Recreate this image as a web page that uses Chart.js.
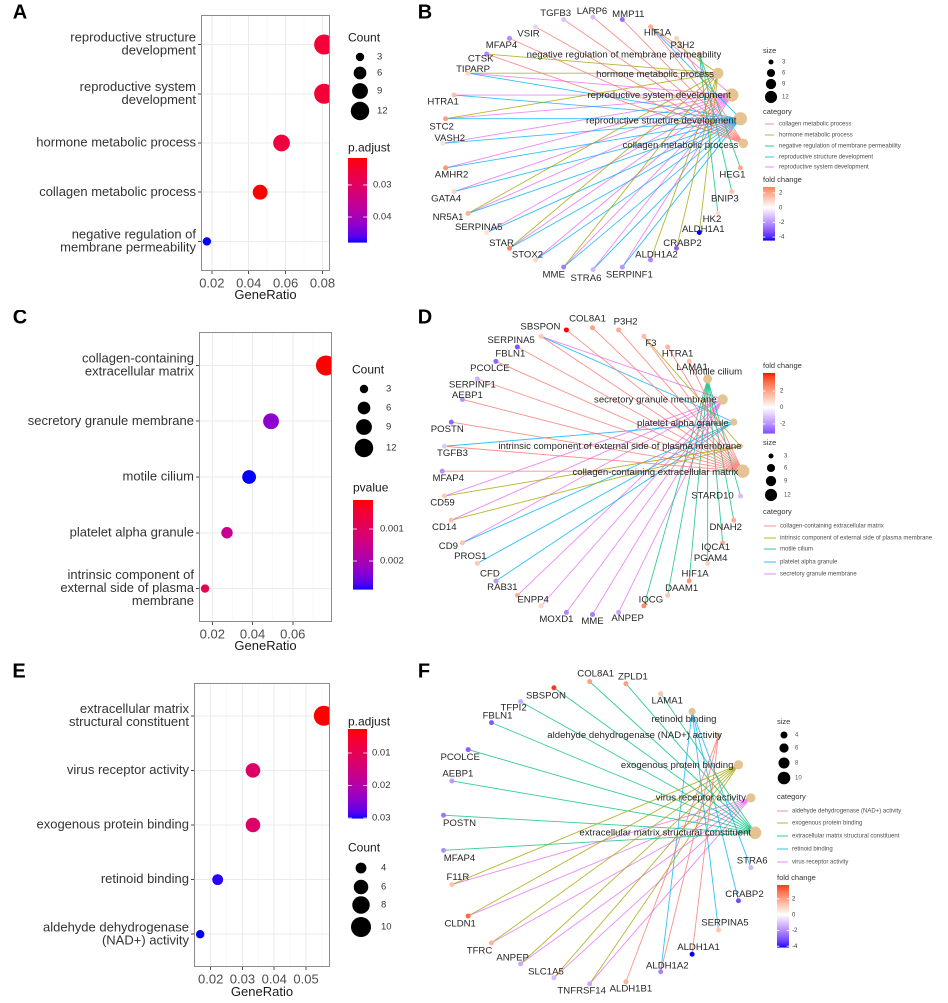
<!DOCTYPE html>
<html lang="en">
<head>
<meta charset="utf-8">
<title>GO enrichment dot plots and gene-concept networks</title>
<script src="https://cdn.jsdelivr.net/npm/chart.js@4.4.1/dist/chart.umd.min.js"></script>
<style>
  html, body { margin:0; padding:0; background:#ffffff; }
  #fig { position:relative; width:948px; height:1003px; overflow:hidden; background:#ffffff; }
  #fig canvas { position:absolute; }
</style>
</head>
<body>
<div id="fig">
  <canvas id="netB"></canvas>
  <canvas id="netD"></canvas>
  <canvas id="netF"></canvas>
  <canvas id="dotA"></canvas>
  <canvas id="dotC"></canvas>
  <canvas id="dotE"></canvas>
</div>
<script>
// ======================= DATA =======================
// ---- Panel A : GO biological process dot plot ----
const termsA = ['reproductive structure development', 'reproductive system development', 'hormone metabolic process', 'collagen metabolic process', 'negative regulation of membrane permeability'];
const geneRatioA = [0.0809, 0.0809, 0.0578, 0.0462, 0.0173];
const countA = [14, 14, 10, 8, 3];
const padjA = [0.0255, 0.0256, 0.0262, 0.0216, 0.0478];
const xTicksA = [0.02, 0.04, 0.06, 0.08];
const countTicksA = [3, 6, 9, 12];
const padjTicksA = [0.03, 0.04];

// ---- Panel C : GO cellular component dot plot ----
const termsC = ['collagen-containing extracellular matrix', 'secretory granule membrane', 'motile cilium', 'platelet alpha granule', 'intrinsic component of external side of plasma membrane'];
const geneRatioC = [0.0765, 0.0492, 0.0383, 0.0273, 0.0164];
const countC = [14, 9, 7, 5, 3];
const pvalC = [0.000094, 0.00232, 0.002875, 0.00154, 0.00084];
const xTicksC = [0.02, 0.04, 0.06];
const countTicksC = [3, 6, 9, 12];
const pvalTicksC = [0.001, 0.002];

// ---- Panel E : GO molecular function dot plot ----
const termsE = ['extracellular matrix structural constituent', 'virus receptor activity', 'exogenous protein binding', 'retinoid binding', 'aldehyde dehydrogenase (NAD+) activity'];
const geneRatioE = [0.0556, 0.0333, 0.0333, 0.0222, 0.0167];
const countE = [10, 6, 6, 4, 3];
const padjE = [0.0026, 0.0122, 0.0122, 0.0296, 0.0300];
const xTicksE = [0.02, 0.03, 0.04, 0.05];
const countTicksE = [4, 6, 8, 10];
const padjTicksE = [0.01, 0.02, 0.03];

// ---- Panel B : network (circular layout order) ----
const circleB = ['collagen metabolic process', 'reproductive structure development', 'reproductive system development', 'hormone metabolic process', 'negative regulation of membrane permeability',
  'P3H2', 'HIF1A', 'MMP11', 'LARP6', 'TGFB3', 'VSIR', 'MFAP4', 'CTSK', 'TIPARP', 'HTRA1', 'STC2', 'VASH2', 'AMHR2', 'GATA4', 'NR5A1', 'SERPINA5', 'STAR', 'STOX2', 'MME', 'STRA6', 'SERPINF1', 'ALDH1A2', 'CRABP2', 'ALDH1A1', 'HK2', 'BNIP3', 'HEG1'];
const catsB = ['collagen metabolic process', 'hormone metabolic process', 'negative regulation of membrane permeability', 'reproductive structure development', 'reproductive system development'];
const catCountB = [8, 10, 3, 14, 14];
const catGenesB = [
  ['TGFB3', 'LARP6', 'MMP11', 'HIF1A', 'P3H2', 'VSIR', 'MFAP4', 'CTSK'],
  ['CTSK', 'TIPARP', 'STC2', 'NR5A1', 'STAR', 'MME', 'ALDH1A2', 'CRABP2', 'ALDH1A1', 'HIF1A'],
  ['HEG1', 'BNIP3', 'HK2'],
  ['TIPARP', 'HTRA1', 'STC2', 'VASH2', 'AMHR2', 'GATA4', 'NR5A1', 'SERPINA5', 'STAR', 'STOX2', 'MME', 'STRA6', 'SERPINF1', 'HIF1A'],
  ['TIPARP', 'HTRA1', 'STC2', 'VASH2', 'AMHR2', 'GATA4', 'NR5A1', 'SERPINA5', 'STAR', 'STOX2', 'MME', 'STRA6', 'SERPINF1', 'HIF1A']
];
const genesB = ['P3H2', 'HIF1A', 'MMP11', 'LARP6', 'TGFB3', 'VSIR', 'MFAP4', 'CTSK', 'TIPARP', 'HTRA1', 'STC2', 'VASH2', 'AMHR2', 'GATA4', 'NR5A1', 'SERPINA5', 'STAR', 'STOX2', 'MME', 'STRA6', 'SERPINF1', 'ALDH1A2', 'CRABP2', 'ALDH1A1', 'HK2', 'BNIP3', 'HEG1'];
const foldB = [1.1, 1.8, -2.8, -1.3, -1.1, -0.8, -2.2, -2.3, 1.0, 1.5, 2.2, 0.7, 2.4, 1.0, 1.8, 0.7, 2.8, 0.9, -2.5, -1.4, -2.0, -2.3, -3.0, -4.4, 0.8, 1.4, 2.0];
const sizeTicksB = [3, 6, 9, 12];
const foldTicksB = [2, 0, -2, -4];

// ---- Panel D : network ----
const circleD = ['collagen-containing extracellular matrix', 'intrinsic component of external side of plasma membrane', 'platelet alpha granule', 'secretory granule membrane', 'motile cilium',
  'LAMA1', 'HTRA1', 'F3', 'P3H2', 'COL8A1', 'SBSPON', 'SERPINA5', 'FBLN1', 'PCOLCE', 'SERPINF1', 'AEBP1', 'POSTN', 'TGFB3', 'MFAP4', 'CD59', 'CD14', 'CD9', 'PROS1', 'CFD', 'RAB31', 'ENPP4', 'MOXD1', 'MME', 'ANPEP', 'IQCG', 'DAAM1', 'HIF1A', 'PGAM4', 'IQCA1', 'DNAH2', 'STARD10'];
const catsD = ['collagen-containing extracellular matrix', 'intrinsic component of external side of plasma membrane', 'motile cilium', 'platelet alpha granule', 'secretory granule membrane'];
const catCountD = [14, 3, 7, 5, 9];
const catGenesD = [
  ['LAMA1', 'HTRA1', 'F3', 'P3H2', 'COL8A1', 'SBSPON', 'SERPINA5', 'FBLN1', 'PCOLCE', 'SERPINF1', 'AEBP1', 'POSTN', 'TGFB3', 'MFAP4'],
  ['F3', 'CD59', 'CD14'],
  ['IQCG', 'DAAM1', 'HIF1A', 'PGAM4', 'IQCA1', 'DNAH2', 'STARD10'],
  ['SERPINA5', 'TGFB3', 'CD9', 'PROS1', 'CFD'],
  ['SERPINA5', 'CD59', 'CD14', 'CD9', 'RAB31', 'ENPP4', 'MOXD1', 'MME', 'ANPEP']
];
const genesD = ['LAMA1', 'HTRA1', 'F3', 'P3H2', 'COL8A1', 'SBSPON', 'SERPINA5', 'FBLN1', 'PCOLCE', 'SERPINF1', 'AEBP1', 'POSTN', 'TGFB3', 'MFAP4', 'CD59', 'CD14', 'CD9', 'PROS1', 'CFD', 'RAB31', 'ENPP4', 'MOXD1', 'MME', 'ANPEP', 'IQCG', 'DAAM1', 'HIF1A', 'PGAM4', 'IQCA1', 'DNAH2', 'STARD10'];
const foldD = [1.4, 1.6, 1.5, 1.8, 2.0, 4.2, 1.2, -3.1, -2.8, -1.4, -2.0, -2.8, -1.0, -2.0, 1.2, 1.4, 1.3, 1.2, -1.8, 1.7, 0.9, -2.2, -2.4, -1.6, 2.5, 1.2, 2.2, 1.0, 1.8, 1.8, -1.2];
const sizeTicksD = [3, 6, 9, 12];
const foldTicksD = [2, 0, -2];

// ---- Panel F : network ----
const circleF = ['extracellular matrix structural constituent', 'virus receptor activity', 'exogenous protein binding', 'aldehyde dehydrogenase (NAD+) activity', 'retinoid binding',
  'LAMA1', 'ZPLD1', 'COL8A1', 'SBSPON', 'TFPI2', 'FBLN1', 'PCOLCE', 'AEBP1', 'POSTN', 'MFAP4', 'F11R', 'CLDN1', 'TFRC', 'ANPEP', 'SLC1A5', 'TNFRSF14', 'ALDH1B1', 'ALDH1A2', 'ALDH1A1', 'SERPINA5', 'CRABP2', 'STRA6'];
const catsF = ['aldehyde dehydrogenase (NAD+) activity', 'exogenous protein binding', 'extracellular matrix structural constituent', 'retinoid binding', 'virus receptor activity'];
const catCountF = [3, 6, 10, 4, 6];
const catGenesF = [
  ['ALDH1B1', 'ALDH1A1', 'ALDH1A2'],
  ['F11R', 'CLDN1', 'TFRC', 'ANPEP', 'SLC1A5', 'TNFRSF14'],
  ['LAMA1', 'ZPLD1', 'COL8A1', 'SBSPON', 'TFPI2', 'FBLN1', 'PCOLCE', 'AEBP1', 'POSTN', 'MFAP4'],
  ['STRA6', 'CRABP2', 'SERPINA5', 'ALDH1A2'],
  ['F11R', 'CLDN1', 'TFRC', 'ANPEP', 'SLC1A5', 'TNFRSF14']
];
const genesF = ['LAMA1', 'ZPLD1', 'COL8A1', 'SBSPON', 'TFPI2', 'FBLN1', 'PCOLCE', 'AEBP1', 'POSTN', 'MFAP4', 'F11R', 'CLDN1', 'TFRC', 'ANPEP', 'SLC1A5', 'TNFRSF14', 'ALDH1B1', 'ALDH1A2', 'ALDH1A1', 'SERPINA5', 'CRABP2', 'STRA6'];
const foldF = [1.3, 2.0, 2.0, 3.75, -1.5, -3.0, -2.8, -1.8, -2.5, -2.0, 1.3, 3.0, 1.6, -1.5, -1.2, -1.5, 1.6, -2.2, -4.1, 1.2, -3.2, -1.3];
const sizeTicksF = [4, 6, 8, 10];
const foldTicksF = [2, 0, -2, -4];

// ======================= LAYOUT / STYLE CONFIG =======================
const FONT = '"Liberation Sans", Arial, Helvetica, sans-serif';
const CAT_COLORS = ['#F8766D', '#A3A500', '#00BF7D', '#00B0F6', '#E76BF3'];
const NODE_COLOR = '#E5C494';

// label nudges (pixels) for network text
const nudgeB = {P3H2:[6,7],HIF1A:[7,6],MMP11:[6,-5],LARP6:[-1,-6],TGFB3:[-8,-6],VSIR:[-7,7],MFAP4:[-8,7],CTSK:[-6,5],TIPARP:[5,-4],HTRA1:[-11,7],STC2:[-4,8],VASH2:[7,-5],AMHR2:[6,7],GATA4:[-8,7],NR5A1:[-20,4],SERPINA5:[-8,-5],STAR:[-8,-5],STOX2:[-8,-5],MME:[-10,8],STRA6:[-7,9],SERPINF1:[7,8],ALDH1A2:[6,-5],CRABP2:[6,-5],ALDH1A1:[4,-3],HK2:[-6,6],BNIP3:[-7,7],HEG1:[-8,7]};
const catNudgeB = [[-5,2],[-4,2],[-1,0.5],[-4,1],[22,1]]; // in circle order
const nudgeD = {LAMA1:[3,6],HTRA1:[10,7],F3:[7,7],P3H2:[7,-8],COL8A1:[-5,-9],SBSPON:[-26,-3],SERPINA5:[-30,4],FBLN1:[-7,7],PCOLCE:[-6,7],SERPINF1:[-5,6],AEBP1:[5,-4],POSTN:[-4,7],TGFB3:[8,7],MFAP4:[6,7],CD59:[-2,7],CD14:[-7,7],CD9:[-14,3.5],PROS1:[-7,-7],CFD:[-6,-7],RAB31:[-15,-8],ENPP4:[-8,-6],MOXD1:[-10,7],MME:[0,7],ANPEP:[9,6],IQCG:[7,-6],DAAM1:[14,-7],HIF1A:[6,-7],PGAM4:[3,-5],IQCA1:[-7,4.5],DNAH2:[-8,7],STARD10:[-28,0]};
const catNudgeD = [[-4.5,1],[1,0],[-5,1],[-6,0.5],[34.5,-7]];
const nudgeF = {LAMA1:[6.6,7],ZPLD1:[7,-7],COL8A1:[6,-8],SBSPON:[-8,8],TFPI2:[-7,6],FBLN1:[6,-7],PCOLCE:[-8,8],AEBP1:[6,-7],POSTN:[16,8],MFAP4:[16,8],F11R:[6,-7],CLDN1:[-8,8],TFRC:[-12,8],ANPEP:[-8,-6],SLC1A5:[-8,-6],TNFRSF14:[-8,7],ALDH1B1:[5,7],ALDH1A2:[6.6,-6],ALDH1A1:[6.4,-7],SERPINA5:[6.4,-7],CRABP2:[6,-6.5],STRA6:[1.3,-7]};
const catNudgeF = [[-4,0],[-5,0],[-5,0.5],[3.4,0],[24.4,8]];

// ======================= HELPERS =======================
function hexToRgb(h){ h = h.replace('#',''); return [parseInt(h.substr(0,2),16), parseInt(h.substr(2,2),16), parseInt(h.substr(4,2),16)]; }
function rgba(hex, a){ const c = hexToRgb(hex); return `rgba(${c[0]},${c[1]},${c[2]},${a})`; }
function s2l(c){ c /= 255; return c <= 0.04045 ? c/12.92 : Math.pow((c+0.055)/1.055, 2.4); }
function l2s(c){ c = c <= 0.0031308 ? 12.92*c : 1.055*Math.pow(c, 1/2.4) - 0.055; return Math.round(Math.max(0, Math.min(1, c))*255); }
function rgbToLab(rgb){
  const r = s2l(rgb[0]), g = s2l(rgb[1]), b = s2l(rgb[2]);
  const x = (r*0.4124 + g*0.3576 + b*0.1805)/0.95047, y = r*0.2126 + g*0.7152 + b*0.0722, z = (r*0.0193 + g*0.1192 + b*0.9505)/1.08883;
  const f = t => t > 0.008856 ? Math.cbrt(t) : (7.787*t + 16/116);
  const fx = f(x), fy = f(y), fz = f(z);
  return [116*fy - 16, 500*(fx - fy), 200*(fy - fz)];
}
function labToRgb(lab){
  const fy = (lab[0] + 16)/116, fx = fy + lab[1]/500, fz = fy - lab[2]/200;
  const fi = t => { const t3 = t*t*t; return t3 > 0.008856 ? t3 : (t - 16/116)/7.787; };
  const x = fi(fx)*0.95047, y = fi(fy), z = fi(fz)*1.08883;
  return [l2s(3.2406*x - 1.5372*y - 0.4986*z), l2s(-0.9689*x + 1.8758*y + 0.0415*z), l2s(0.0557*x - 0.2040*y + 1.0570*z)];
}
function mixLab(c1, c2, t){
  t = Math.max(0, Math.min(1, t));
  const a = rgbToLab(hexToRgb(c1)), b = rgbToLab(hexToRgb(c2));
  const c = labToRgb([0,1,2].map(i => a[i] + (b[i] - a[i])*t));
  return `rgb(${c[0]},${c[1]},${c[2]})`;
}
function wrapTerm(st, width){
  const out = [];
  while (st.length > width && st.indexOf(' ') >= 0) {
    const ys = [];
    for (let i = 0; i < st.length; i++) if (st[i] === ' ') ys.push(i + 1);
    ys.push(st.length);
    const ok = ys.filter(v => v < width);
    const cut = ok.length ? ok[ok.length - 1] : ys[0];
    out.push(st.substring(0, cut - 1));
    st = st.substring(cut);
  }
  out.push(st);
  return out;
}
function fmtNum(v){ let s = (+v).toFixed(3).replace(/0+$/, ''); if (s.endsWith('.')) s += '0'; return s; }
function expand(vals){ const mn = Math.min(...vals), mx = Math.max(...vals), d = (mx - mn)*0.05; return [mn - d, mx + d]; }
function areaScale(vmin, vmax, r0, r1){ return v => Math.sqrt(r0*r0 + (r1*r1 - r0*r0)*(v - vmin)/(vmax - vmin)); }

function drawBar(ctx, L, vTop, vBot, colorFn, ticks, fmt, font){
  const nb = 80, h = (L.y1 - L.y0)/nb;
  for (let i = 0; i < nb; i++) {
    const v = vTop + (vBot - vTop)*(i + 0.5)/nb;
    ctx.fillStyle = colorFn(v);
    ctx.fillRect(L.x0, L.y0 + i*h, L.x1 - L.x0, h + 0.6);
  }
  const tl = (L.x1 - L.x0)/5;
  ctx.strokeStyle = '#ffffff'; ctx.lineWidth = 0.8;
  ctx.font = font; ctx.textAlign = 'left'; ctx.textBaseline = 'middle'; ctx.fillStyle = '#333333';
  ticks.forEach(t => {
    const y = L.y0 + (t - vTop)/(vBot - vTop)*(L.y1 - L.y0);
    ctx.beginPath(); ctx.moveTo(L.x0, y); ctx.lineTo(L.x0 + tl, y); ctx.moveTo(L.x1 - tl, y); ctx.lineTo(L.x1, y); ctx.stroke();
    ctx.fillText(fmt(t), L.lx, y);
  });
}

// ======================= DOT PLOTS =======================
function buildDotPlot(cfg){
  const cv = document.getElementById(cfg.id);
  cv.width = cfg.box.w; cv.height = cfg.box.h;
  cv.style.left = cfg.box.x + 'px'; cv.style.top = cfg.box.y + 'px';
  const ox = cfg.box.x, oy = cfg.box.y;
  const area = { l: cfg.panel.l - ox, r: cfg.panel.r - ox, t: cfg.panel.t - oy, b: cfg.panel.b - oy };
  const [xmin, xmax] = expand(cfg.ratio);
  const pmin = Math.min(...cfg.pv), pmax = Math.max(...cfg.pv);
  const pColor = p => mixLab('#FF0000', '#0000FF', (p - pmin)/(pmax - pmin));
  const radius = areaScale(Math.min(...cfg.count), Math.max(...cfg.count), 4.2, 10);
  const major = cfg.xTicks[1] - cfg.xTicks[0], half = major/2;
  const tickVals = [];
  for (let k = Math.ceil(xmin/half - 1e-9); k*half <= xmax + 1e-12; k++) tickVals.push(+(k*half).toFixed(6));
  const isMajor = v => Math.abs(v/major - Math.round(v/major)) < 1e-6;
  const n = cfg.terms.length;

  new Chart(cv, {
    type: 'scatter',
    data: { datasets: [{
      data: cfg.ratio.map((v, i) => ({ x: v, y: i + 1 })),
      pointRadius: ctx => radius(cfg.count[ctx.dataIndex]),
      pointHoverRadius: ctx => radius(cfg.count[ctx.dataIndex]),
      pointBackgroundColor: cfg.pv.map(pColor),
      pointBorderWidth: 0,
      clip: 0
    }]},
    options: {
      responsive: false, animation: false, devicePixelRatio: 2, events: [],
      layout: { padding: { left: 0, top: area.t, right: cfg.box.w - area.r, bottom: 0 } },
      plugins: { legend: { display: false }, tooltip: { enabled: false } },
      scales: {
        x: {
          type: 'linear', min: xmin, max: xmax,
          afterBuildTicks: s => { s.ticks = tickVals.map(v => ({ value: v })); },
          afterFit: s => { s.height = cfg.box.h - area.b; },
          grid: {
            color: c => (c.tick && !isMajor(c.tick.value)) ? '#F3F3F3' : '#EBEBEB',
            lineWidth: c => (c.tick && !isMajor(c.tick.value)) ? 0.6 : 1,
            tickColor: c => (c.tick && !isMajor(c.tick.value)) ? 'rgba(0,0,0,0)' : '#4D4D4D',
            tickLength: 3
          },
          border: { display: false },
          ticks: { callback: v => isMajor(v) ? fmtNum(v) : '', color: '#4D4D4D', font: { family: FONT, size: 13 }, padding: 2, maxRotation: 0, autoSkip: false },
          title: { display: true, text: 'GeneRatio', color: '#1A1A1A', font: { family: FONT, size: 13 }, padding: { top: 0, bottom: cfg.titlePad } }
        },
        y: {
          type: 'linear', min: 0.4, max: n + 0.6, reverse: true,
          afterBuildTicks: s => { s.ticks = cfg.terms.map((t, i) => ({ value: i + 1 })); },
          afterFit: s => { s.width = area.l; },
          grid: { color: '#EBEBEB', lineWidth: 1, tickColor: '#4D4D4D', tickLength: 3 },
          border: { display: false },
          ticks: { callback: (v, i) => wrapTerm(cfg.terms[i], 30), color: '#333333', font: { family: FONT, size: 13, lineHeight: 1.0 }, padding: 2, autoSkip: false }
        }
      }
    },
    plugins: [{
      id: 'dotDecor',
      afterDatasetsDraw(chart){
        const { ctx, chartArea: ca } = chart;
        ctx.save(); ctx.strokeStyle = '#8C8C8C'; ctx.lineWidth = 1;
        ctx.strokeRect(ca.left + 0.5, ca.top + 0.5, ca.right - ca.left - 1, ca.bottom - ca.top - 1);
        ctx.restore();
      },
      afterDraw(chart){
        const ctx = chart.ctx;
        ctx.save(); ctx.translate(-ox, -oy);
        ctx.fillStyle = '#000'; ctx.font = `bold 20px ${FONT}`; ctx.textAlign = 'center'; ctx.textBaseline = 'middle';
        ctx.fillText(cfg.letter.text, cfg.letter.x, cfg.letter.y);
        const C = cfg.countLeg;
        ctx.textAlign = 'left'; ctx.fillStyle = '#1A1A1A'; ctx.font = `12px ${FONT}`;
        ctx.fillText('Count', C.x, C.titleY);
        cfg.countTicks.forEach((c, i) => {
          ctx.beginPath(); ctx.arc(C.cx, C.cy[i], radius(c), 0, 2*Math.PI); ctx.fillStyle = '#000'; ctx.fill();
          ctx.font = `9.5px ${FONT}`; ctx.fillStyle = '#333'; ctx.fillText(String(c), C.lx, C.cy[i]);
        });
        const P = cfg.colorLeg;
        ctx.fillStyle = '#1A1A1A'; ctx.font = `12px ${FONT}`; ctx.textAlign = 'left';
        ctx.fillText(cfg.colorTitle, P.x, P.titleY);
        drawBar(ctx, P, pmin, pmax, pColor, cfg.pTicks, fmtNum, `9.5px ${FONT}`);
        ctx.restore();
      }
    }]
  });
}

// ======================= NETWORKS =======================
function buildNetwork(cfg){
  const cv = document.getElementById(cfg.id);
  cv.width = cfg.box.w; cv.height = cfg.box.h;
  cv.style.left = cfg.box.x + 'px'; cv.style.top = cfg.box.y + 'px';
  const ox = cfg.box.x, oy = cfg.box.y, G = cfg.geom;
  const n = cfg.circle.length, pos = {};
  cfg.circle.forEach((name, i) => { const a = 2*Math.PI*i/n; pos[name] = { x: Math.cos(a), y: Math.sin(a) }; });
  const xmin = (ox - G.cx)/G.rx, xmax = (ox + cfg.box.w - G.cx)/G.rx;
  const ymax = (G.cy - oy)/G.ry, ymin = (G.cy - oy - cfg.box.h)/G.ry;
  const fmin = Math.min(...cfg.fold), fmax = Math.max(...cfg.fold);
  const fabs = Math.max(Math.abs(fmin), Math.abs(fmax));
  const fColor = v => v >= 0 ? mixLab('#FFFFFF', '#FF0000', v/fabs) : mixLab('#FFFFFF', '#0000FF', -v/fabs);
  const catR = areaScale(Math.min(...cfg.catCount), Math.max(...cfg.catCount), cfg.rRange[0], cfg.rRange[1]);

  const datasets = [];
  cfg.cats.forEach((c, ci) => {
    const d = [];
    cfg.catGenes[ci].forEach(gn => { d.push({ x: pos[gn].x, y: pos[gn].y }, { x: pos[c].x, y: pos[c].y }, { x: null, y: null }); });
    datasets.push({ type: 'line', data: d, borderColor: rgba(CAT_COLORS[ci], 0.8), borderWidth: 0.9, pointRadius: 0, pointHoverRadius: 0, spanGaps: false, fill: false, tension: 0, order: 3, clip: false });
  });
  const catOrderCounts = cfg.circle.filter(nm => cfg.cats.includes(nm)).map(nm => cfg.catCount[cfg.cats.indexOf(nm)]);
  const catNames = cfg.circle.filter(nm => cfg.cats.includes(nm));
  datasets.push({ type: 'scatter', data: catNames.map(c => ({ x: pos[c].x, y: pos[c].y })), pointRadius: catOrderCounts.map(catR), pointHoverRadius: catOrderCounts.map(catR), pointBackgroundColor: NODE_COLOR, pointBorderWidth: 0, order: 2, clip: false });
  datasets.push({ type: 'scatter', data: cfg.genes.map(g => ({ x: pos[g].x, y: pos[g].y })), pointRadius: 2.5, pointHoverRadius: 2.5, pointBackgroundColor: cfg.fold.map(fColor), pointBorderWidth: 0, order: 1, clip: false });

  new Chart(cv, {
    type: 'scatter',
    data: { datasets },
    options: {
      responsive: false, animation: false, devicePixelRatio: 2, events: [],
      layout: { padding: 0 },
      plugins: { legend: { display: false }, tooltip: { enabled: false } },
      scales: {
        x: { type: 'linear', min: xmin, max: xmax, display: false },
        y: { type: 'linear', min: ymin, max: ymax, display: false }
      }
    },
    plugins: [{
      id: 'netDecor',
      afterDatasetsDraw(chart){
        const ctx = chart.ctx, xs = chart.scales.x, ys = chart.scales.y;
        ctx.save();
        ctx.fillStyle = '#262626'; ctx.textBaseline = 'middle';
        ctx.font = `9.6px ${FONT}`; ctx.textAlign = 'center';
        cfg.genes.forEach(g => {
          const o = cfg.nudge[g] || [0, -7];
          ctx.fillText(g, xs.getPixelForValue(pos[g].x) + o[0], ys.getPixelForValue(pos[g].y) + o[1]);
        });
        ctx.textAlign = 'right';
        catNames.forEach((c, i) => {
          const o = cfg.catNudge[i];
          ctx.fillText(c, xs.getPixelForValue(pos[c].x) + o[0], ys.getPixelForValue(pos[c].y) + o[1]);
        });
        ctx.restore();
      },
      afterDraw(chart){
        const ctx = chart.ctx;
        ctx.save(); ctx.translate(-ox, -oy);
        ctx.fillStyle = '#000'; ctx.font = `bold 20px ${FONT}`; ctx.textAlign = 'center'; ctx.textBaseline = 'middle';
        ctx.fillText(cfg.letter.text, cfg.letter.x, cfg.letter.y);
        ctx.textAlign = 'left';
        const title = (t, x, y) => { ctx.fillStyle = '#333'; ctx.font = `7.5px ${FONT}`; ctx.fillText(t, x, y); };
        // size legend
        const S = cfg.sizeLeg;
        title('size', S.x, S.titleY);
        cfg.sizeTicks.forEach((s, i) => {
          ctx.beginPath(); ctx.arc(S.cx, S.cy[i], catR(s), 0, 2*Math.PI); ctx.fillStyle = '#000'; ctx.fill();
          ctx.fillStyle = '#4D4D4D'; ctx.font = `6px ${FONT}`; ctx.fillText(String(s), S.lx, S.cy[i]);
        });
        // category legend
        const K = cfg.catLeg;
        title('category', K.x, K.titleY);
        cfg.cats.forEach((c, i) => {
          ctx.strokeStyle = rgba(CAT_COLORS[i], 0.8); ctx.lineWidth = 1;
          ctx.beginPath(); ctx.moveTo(K.l0, K.ys[i]); ctx.lineTo(K.l1, K.ys[i]); ctx.stroke();
          ctx.fillStyle = '#4D4D4D'; ctx.font = `6px ${FONT}`; ctx.fillText(c, K.tx, K.ys[i]);
        });
        // fold change legend
        const F = cfg.foldLeg;
        title('fold change', F.x, F.titleY);
        drawBar(ctx, F, fmax, fmin, fColor, cfg.foldTicks, v => String(v), `6px ${FONT}`);
        ctx.restore();
      }
    }]
  });
}

// ======================= BUILD =======================
buildDotPlot({
  id: 'dotA', box: { x: 0, y: 0, w: 420, h: 320 }, panel: { l: 201, r: 330, t: 4, b: 271 }, titlePad: 17,
  terms: termsA, ratio: geneRatioA, count: countA, pv: padjA, colorTitle: 'p.adjust',
  xTicks: xTicksA, countTicks: countTicksA, pTicks: padjTicksA,
  letter: { text: 'A', x: 20, y: 13 },
  countLeg: { x: 348, titleY: 38, cx: 360, cy: [57, 73, 91, 111], lx: 377 },
  colorLeg: { x: 348, titleY: 148, x0: 348, x1: 367, y0: 158, y1: 242, lx: 373 }
});
buildDotPlot({
  id: 'dotC', box: { x: 0, y: 310, w: 420, h: 350 }, panel: { l: 199, r: 332, t: 332, b: 622 }, titlePad: 6,
  terms: termsC, ratio: geneRatioC, count: countC, pv: pvalC, colorTitle: 'pvalue',
  xTicks: xTicksC, countTicks: countTicksC, pTicks: pvalTicksC,
  letter: { text: 'C', x: 20, y: 318 },
  countLeg: { x: 352, titleY: 370, cx: 364, cy: [389, 408, 427, 448], lx: 386 },
  colorLeg: { x: 353, titleY: 488, x0: 353, x1: 373, y0: 500, y1: 589, lx: 380 }
});
buildDotPlot({
  id: 'dotE', box: { x: 0, y: 655, w: 420, h: 348 }, panel: { l: 194, r: 330, t: 683, b: 967 }, titlePad: 3,
  terms: termsE, ratio: geneRatioE, count: countE, pv: padjE, colorTitle: 'p.adjust',
  xTicks: xTicksE, countTicks: countTicksE, pTicks: padjTicksE,
  letter: { text: 'E', x: 19, y: 672 },
  colorLeg: { x: 348, titleY: 722, x0: 348, x1: 367, y0: 729, y1: 818, lx: 372 },
  countLeg: { x: 348, titleY: 848, cx: 361, cy: [868, 887, 905, 927], lx: 381 }
});

buildNetwork({
  id: 'netB', box: { x: 400, y: 0, w: 548, h: 300 }, geom: { cx: 591, cy: 143, rx: 154, ry: 132 },
  circle: circleB, cats: catsB, catCount: catCountB, catGenes: catGenesB, genes: genesB, fold: foldB,
  nudge: nudgeB, catNudge: catNudgeB, rRange: [2.5, 6.6], sizeTicks: sizeTicksB, foldTicks: foldTicksB,
  letter: { text: 'B', x: 425, y: 13 },
  sizeLeg: { x: 763, titleY: 51, cx: 771, cy: [62, 73, 84, 97], lx: 782 },
  catLeg: { x: 763, titleY: 112, ys: [124, 135, 146, 157, 167], l0: 765, l1: 774, tx: 779 },
  foldLeg: { x: 763, titleY: 180, x0: 763, x1: 775, y0: 187, y1: 240, lx: 779 }
});
buildNetwork({
  id: 'netD', box: { x: 400, y: 300, w: 548, h: 350 }, geom: { cx: 590.5, cy: 471, rx: 154, ry: 149 },
  circle: circleD, cats: catsD, catCount: catCountD, catGenes: catGenesD, genes: genesD, fold: foldD,
  nudge: nudgeD, catNudge: catNudgeD, rRange: [2.5, 6.6], sizeTicks: sizeTicksD, foldTicks: foldTicksD,
  letter: { text: 'D', x: 425, y: 318 },
  foldLeg: { x: 763, titleY: 366, x0: 763, x1: 775, y0: 373, y1: 433, lx: 780 },
  sizeLeg: { x: 763, titleY: 443, cx: 771, cy: [456, 468, 481, 495], lx: 784 },
  catLeg: { x: 763, titleY: 512, ys: [526, 538, 549, 562, 574], l0: 764, l1: 776, tx: 780 }
});
buildNetwork({
  id: 'netF', box: { x: 400, y: 650, w: 548, h: 353 }, geom: { cx: 597, cy: 833, rx: 160, ry: 157 },
  circle: circleF, cats: catsF, catCount: catCountF, catGenes: catGenesF, genes: genesF, fold: foldF,
  nudge: nudgeF, catNudge: catNudgeF, rRange: [2.8, 6.3], sizeTicks: sizeTicksF, foldTicks: foldTicksF,
  letter: { text: 'F', x: 424, y: 672 },
  sizeLeg: { x: 777, titleY: 722, cx: 784, cy: [735, 748, 763, 778], lx: 795 },
  catLeg: { x: 777, titleY: 797, ys: [811, 823, 836, 849, 862], l0: 777, l1: 788, tx: 792 },
  foldLeg: { x: 777, titleY: 878, x0: 777, x1: 789, y0: 885, y1: 947, lx: 792 }
});
</script>
</body>
</html>
